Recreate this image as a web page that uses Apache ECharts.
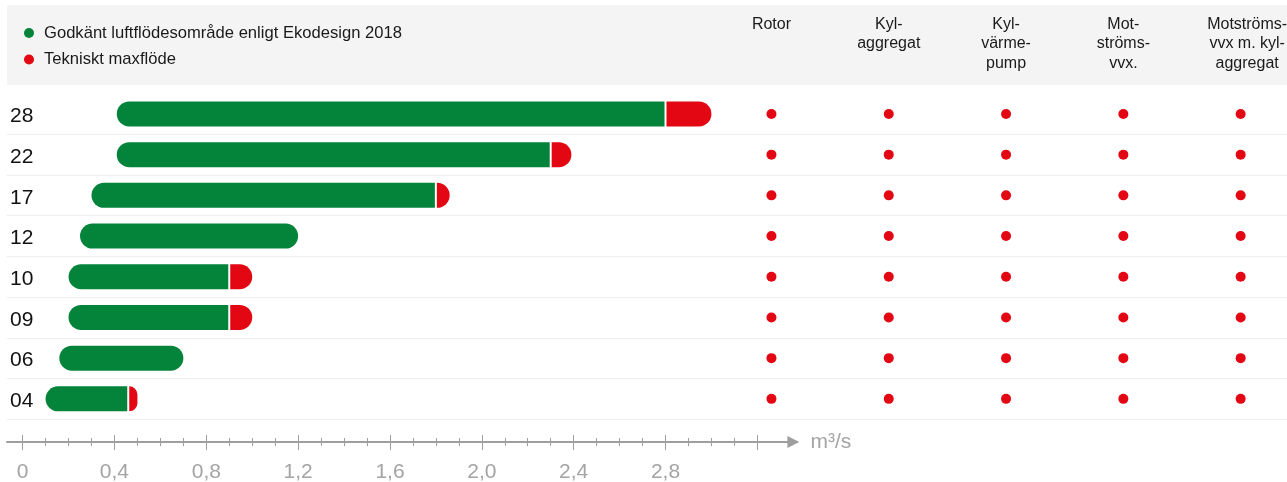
<!DOCTYPE html>
<html>
<head>
<meta charset="utf-8">
<script src="https://cdn.jsdelivr.net/npm/echarts@6/dist/echarts.min.js"></script>
<style>
  html, body { margin: 0; padding: 0; background: #ffffff; }
  #chart { width: 1287px; height: 482px; }
</style>
</head>
<body>
<div id="chart"></div>
<script>
// Unit sizes, listed top to bottom
const unitSizes = ['28', '22', '17', '12', '10', '09', '06', '04'];
// Approved airflow range according to Ekodesign 2018 (m³/s)
const approvedMin = [0.41, 0.41, 0.30, 0.25, 0.20, 0.20, 0.16, 0.10];
const approvedMax = [2.80, 2.30, 1.80, 1.20, 0.90, 0.90, 0.70, 0.46];
// Technical maximum flow (null where there is no extra range)
const technicalMax = [3.00, 2.39, 1.86, null, 1.00, 1.00, null, 0.50];
// Heat recovery variants and which sizes they are offered for
const recoveryTypes = ['Rotor', 'Kyl-\naggregat', 'Kyl-\nvärme-\npump', 'Mot-\nströms-\nvvx.', 'Motströms-\nvvx m. kyl-\naggregat'];
const availability = [
  [1, 1, 1, 1, 1],
  [1, 1, 1, 1, 1],
  [1, 1, 1, 1, 1],
  [1, 1, 1, 1, 1],
  [1, 1, 1, 1, 1],
  [1, 1, 1, 1, 1],
  [1, 1, 1, 1, 1],
  [1, 1, 1, 1, 1]
];
// Flow axis ticks (m³/s)
const labelledTicks = [0, 0.4, 0.8, 1.2, 1.6, 2.0, 2.4, 2.8];
const majorTicks = [0, 0.4, 0.8, 1.2, 1.6, 2.0, 2.4, 2.8, 3.2];
const minorTicks = [];
for (let i = 1; i < 32; i++) { if (i % 4 !== 0) minorTicks.push(i / 10); }

const GREEN = '#04833a';
const RED = '#e30613';
const AXIS_GREY = '#9e9e9e';
const FONT = '"Liberation Sans", Arial, Helvetica, sans-serif';
const BAR_RATIO = 25 / 40.7;

const NAME_APPROVED = 'Godkänt luftflödesområde enligt Ekodesign 2018';
const NAME_TECHNICAL = 'Tekniskt maxflöde';

const approvedData = unitSizes.map((_, i) => [approvedMin[i], approvedMax[i], i, technicalMax[i] != null ? 1 : 0]);
const technicalData = [];
unitSizes.forEach((_, i) => { if (technicalMax[i] != null) technicalData.push([approvedMax[i], technicalMax[i], i]); });
const dotData = [];
availability.forEach((row, r) => row.forEach((v, c) => { if (v) dotData.push([c, r]); }));

function renderApproved(params, api) {
  const row = api.value(2);
  const a = api.coord([api.value(0), row]);
  const b = api.coord([api.value(1), row]);
  const h = api.size([0, 1])[1] * BAR_RATIO;
  const r = h / 2;
  const extended = api.value(3) === 1;
  return {
    type: 'rect',
    shape: { x: a[0], y: a[1] - h / 2, width: b[0] - a[0] - (extended ? 1 : 0), height: h, r: extended ? [r, 0, 0, r] : r },
    style: { fill: api.visual('color') }
  };
}

function renderTechnical(params, api) {
  const row = api.value(2);
  const a = api.coord([api.value(0), row]);
  const b = api.coord([api.value(1), row]);
  const h = api.size([0, 1])[1] * BAR_RATIO;
  const r = h / 2;
  return {
    type: 'rect',
    shape: { x: a[0] + 1, y: a[1] - h / 2, width: b[0] - a[0] - 1, height: h, r: [0, r, r, 0] },
    style: { fill: api.visual('color') }
  };
}

const rowSplit = { show: true, interval: (idx) => idx > 0, lineStyle: { color: '#eeeeee', width: 1 } };
const flowMin = -0.068, flowMax = 3.357;
const headerText = { verticalAlign: 'top', fontSize: 16, lineHeight: 19.5, color: '#1a1a1a', fontFamily: FONT };

const chart = echarts.init(document.getElementById('chart'), null, { renderer: 'canvas' });
chart.setOption({
  animation: false,
  backgroundColor: '#ffffff',
  textStyle: { fontFamily: FONT },
  graphic: [{
    type: 'rect', z: -10, silent: true,
    shape: { x: 7, y: 5, width: 1280, height: 80 },
    style: { fill: '#f4f4f4' }
  }],
  legend: {
    data: [NAME_APPROVED, NAME_TECHNICAL],
    orient: 'vertical', left: 19, top: 19.5, padding: [5, 5, 5, 5],
    icon: 'circle', itemWidth: 20, itemHeight: 10, itemGap: 9.5,
    textStyle: { fontSize: 16.6, color: '#1a1a1a', fontFamily: FONT },
    selectedMode: false
  },
  grid: [
    { left: 7, top: 93.6, width: 786.4, height: 325.6, outerBoundsMode: 'none' },
    { left: 712.8, top: 93.6, width: 586.5, height: 325.6, outerBoundsMode: 'none' }
  ],
  xAxis: [
    {
      gridIndex: 0, type: 'value', min: flowMin, max: flowMax, position: 'bottom', offset: 22.8,
      axisLine: { show: true, symbol: ['none', 'triangle'], symbolSize: [12, 12], lineStyle: { color: AXIS_GREY, width: 2 } },
      axisTick: { show: false },
      splitLine: { show: false },
      axisLabel: {
        customValues: labelledTicks, margin: 20, fontSize: 21, color: '#a4a4a4', fontFamily: FONT,
        formatter: (v) => v === 0 ? '0' : v.toFixed(1).replace('.', ',')
      },
      name: 'm³/s', nameLocation: 'end', nameGap: 17,
      nameTextStyle: { fontSize: 21, color: '#a4a4a4', fontFamily: FONT, verticalAlign: 'middle' }
    },
    {
      gridIndex: 0, type: 'value', min: flowMin, max: flowMax, position: 'bottom', offset: 30.8,
      axisLine: { show: false },
      axisTick: { show: true, inside: true, length: 15, customValues: majorTicks, lineStyle: { color: AXIS_GREY, width: 1 } },
      axisLabel: { show: false }, splitLine: { show: false }
    },
    {
      gridIndex: 0, type: 'value', min: flowMin, max: flowMax, position: 'bottom', offset: 26.8,
      axisLine: { show: false },
      axisTick: { show: true, inside: true, length: 8, customValues: minorTicks, lineStyle: { color: AXIS_GREY, width: 1 } },
      axisLabel: { show: false }, splitLine: { show: false }
    },
    {
      gridIndex: 1, type: 'category',
      data: recoveryTypes.map((t, i) => i === recoveryTypes.length - 1
        ? { value: t, textStyle: Object.assign({ padding: [0, 0, 0, 13] }, headerText) }
        : t),
      position: 'top',
      axisLine: { show: false }, axisTick: { show: false }, splitLine: { show: false },
      axisLabel: Object.assign({ interval: 0, margin: 79 }, headerText)
    }
  ],
  yAxis: [
    {
      gridIndex: 0, type: 'category', inverse: true, data: unitSizes,
      axisLine: { show: false }, axisTick: { show: false },
      axisLabel: {
        align: 'left', margin: -3,
        formatter: (v) => '{size|' + v + '}',
        rich: { size: { fontSize: 21, color: '#111111', fontFamily: FONT, padding: [5, 0, 0, 0] } }
      },
      splitLine: rowSplit
    },
    {
      gridIndex: 1, type: 'category', inverse: true, data: unitSizes,
      axisLine: { show: false }, axisTick: { show: false }, axisLabel: { show: false },
      splitLine: rowSplit
    }
  ],
  series: [
    {
      name: NAME_APPROVED, type: 'custom', xAxisIndex: 0, yAxisIndex: 0,
      itemStyle: { color: GREEN },
      encode: { x: [0, 1], y: 2 },
      renderItem: renderApproved,
      data: approvedData
    },
    {
      name: NAME_TECHNICAL, type: 'custom', xAxisIndex: 0, yAxisIndex: 0,
      itemStyle: { color: RED },
      encode: { x: [0, 1], y: 2 },
      renderItem: renderTechnical,
      data: technicalData
    },
    {
      name: 'Tillval', type: 'scatter', xAxisIndex: 3, yAxisIndex: 1,
      symbol: 'circle', symbolSize: 10,
      itemStyle: { color: RED, opacity: 1 },
      data: dotData
    }
  ]
});
</script>
</body>
</html>
